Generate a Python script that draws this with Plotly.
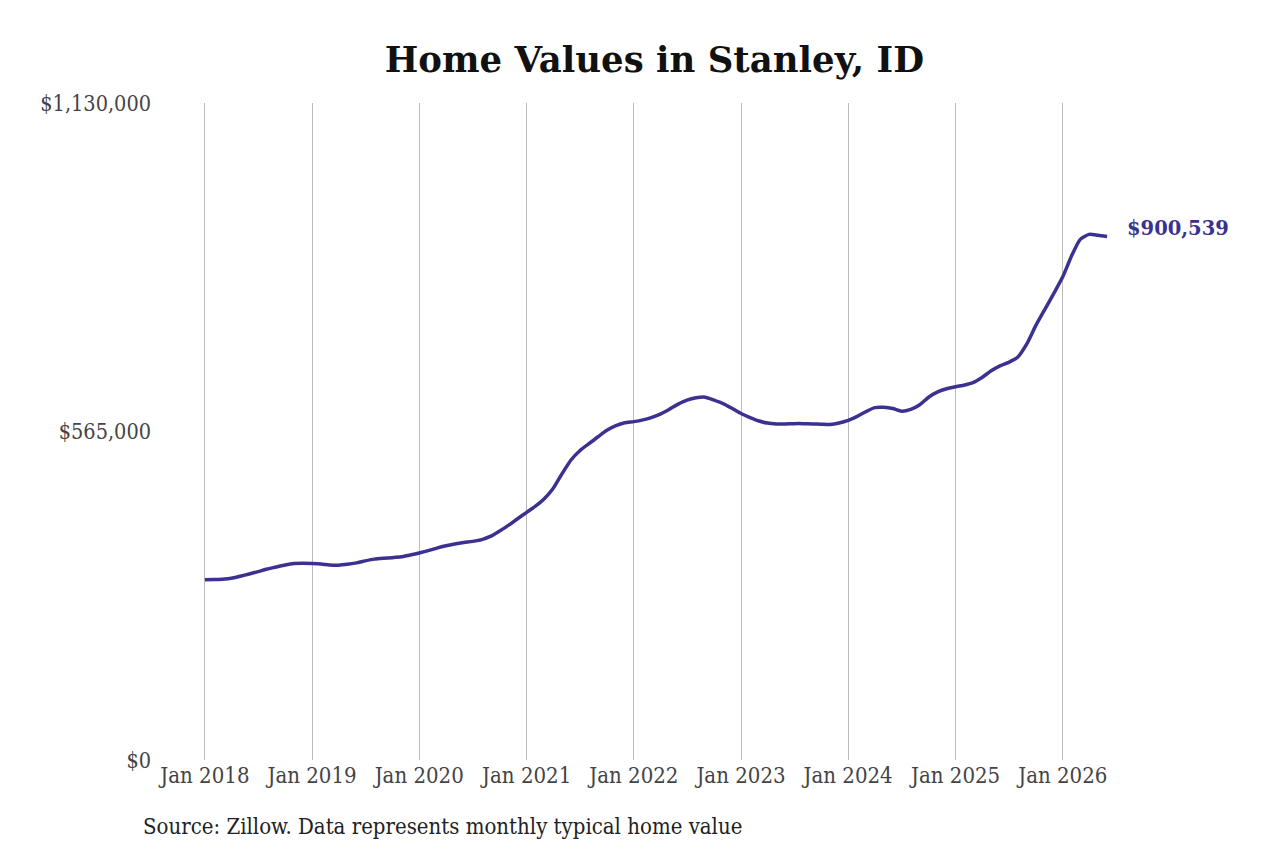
import plotly.graph_objs as go
import pandas as pd

# monthly typical home value, Jan 2018 - Jun 2026 (thousands of $)
values_2018 = [310, 310.5, 311, 312.5, 316, 320, 324, 328.5, 332, 335.5, 338, 338.5]
values_2019 = [338, 337, 335.5, 335, 336.5, 339, 342.5, 345.5, 347, 348, 349.5, 352.5]
values_2020 = [356, 360, 364.5, 368.5, 371.5, 374, 376, 379, 385, 394, 404, 415]
values_2021 = [426, 437, 449, 467, 492, 516, 532, 544, 556, 567, 575, 580]
values_2022 = [582, 585, 589, 595, 603, 612, 619, 623, 624, 619, 613, 605]
values_2023 = [596, 589, 583.5, 579.5, 578, 578, 578.5, 578.5, 578, 577.5, 577, 579.5]
values_2024 = [584, 591, 599, 606, 606.5, 604.5, 600, 603, 611, 624, 633, 638.5]
values_2025 = [642, 645, 649, 658, 669, 678, 684, 693, 716, 747, 775, 802]
values_2026 = [831, 868, 895, 904, 902.5, 900.539]

home_values = [v * 1000 for v in (values_2018 + values_2019 + values_2020 + values_2021
                                  + values_2022 + values_2023 + values_2024 + values_2025
                                  + values_2026)]
dates = pd.date_range("2018-01-01", periods=len(home_values), freq="MS")

tick_vals = [pd.Timestamp(f"{y}-01-01") for y in range(2018, 2027)]
tick_text = [f"Jan {y}" for y in range(2018, 2027)]
y_ticks = [0, 565000, 1130000]
y_text = ["$0", "$565,000", "$1,130,000"]

line_color = "#3b3190"
serif_cond = "DejaVu Serif Condensed, DejaVu Serif"

fig = go.Figure()
fig.add_trace(go.Scatter(x=dates, y=home_values, mode="lines",
                         line=dict(color=line_color, width=3.5, shape="spline",
                                   smoothing=0.6),
                         hoverinfo="x+y", showlegend=False))

# label at the last point
fig.add_annotation(x=dates[-1], y=home_values[-1], text=f"${home_values[-1]:,.0f}",
                   showarrow=False, xanchor="left", xshift=18, yshift=8,
                   font=dict(family="DejaVu Serif", size=19.5, color=line_color,
                             weight="bold"))

fig.add_annotation(x=0, y=0, xref="paper", yref="paper", xshift=-19, yshift=-81,
                   text="Source: Zillow. Data represents monthly typical home value",
                   showarrow=False, xanchor="left", yanchor="bottom",
                   font=dict(family=serif_cond, size=22, color="#222222"))

fig.update_layout(
    width=1280, height=853,
    paper_bgcolor="white", plot_bgcolor="white",
    margin=dict(l=152, r=163, t=95, b=101),
    title=dict(text="<b>Home Values in Stanley, ID</b>", x=0.505, xanchor="center",
               y=0.939, yanchor="middle",
               font=dict(family="DejaVu Serif", size=35.5, color="#111111")),
    font=dict(family=serif_cond, size=22, color="#444444"),
)
fig.update_xaxes(range=[pd.Timestamp("2017-08-01"), pd.Timestamp("2026-08-01")],
                 tickvals=tick_vals, ticktext=tick_text, showgrid=True,
                 gridcolor="#bbbbbb", gridwidth=1, zeroline=False, showline=False,
                 ticks="", tickfont=dict(size=22, color="#444444"))
fig.update_yaxes(range=[0, 1130000], tickvals=y_ticks, ticktext=y_text,
                 showgrid=False, zeroline=False, showline=False, ticks="",
                 ticklabelstandoff=8, tickfont=dict(size=21.5, color="#444444"))

fig.write_html("out.html")
